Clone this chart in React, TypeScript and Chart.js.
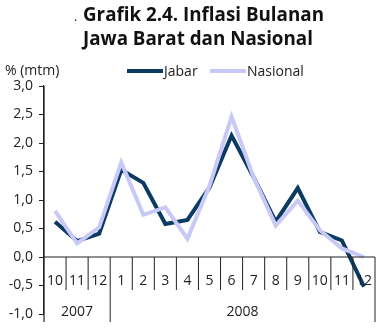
import React, { useEffect, useRef } from "react";
import { Chart, registerables } from "chart.js";

Chart.register(...registerables);

const months = ["10", "11", "12", "1", "2", "3", "4", "5", "6", "7", "8", "9", "10", "11", "12"];
const yearLabels = ["2007", "2008"];
const yearSpans = [3, 12];
const jabar = [0.62, 0.28, 0.41, 1.53, 1.3, 0.58, 0.65, 1.22, 2.13, 1.4, 0.62, 1.21, 0.44, 0.29, -0.52];
const nasional = [0.81, 0.24, 0.52, 1.66, 0.74, 0.87, 0.32, 1.25, 2.46, 1.4, 0.55, 0.99, 0.47, 0.15, 0.0];
const titleLines = ["Grafik 2.4. Inflasi Bulanan", "Jawa Barat dan Nasional"];
const unitLabel = "% (mtm)";

const FONT = "'Open Sans', sans-serif";
const AXIS = "#222";

const decor = {
  id: "decor",
  afterDraw(chart: any) {
    const ctx = chart.ctx;
    const x = chart.scales.x;
    const y = chart.scales.y;
    const area = chart.chartArea;
    ctx.save();
    // title
    ctx.fillStyle = "#111";
    ctx.textBaseline = "alphabetic";
    ctx.textAlign = "left";
    ctx.font = `bold 18.8px ${FONT}`;
    ctx.fillText(titleLines[0], 83, 21);
    ctx.fillText(titleLines[1], 83, 45);
    ctx.font = `12px ${FONT}`;
    ctx.fillText(".", 74, 21);
    // unit
    ctx.font = `14px ${FONT}`;
    ctx.fillStyle = "#222";
    ctx.fillText(unitLabel, 5, 75);
    // legend
    const items = [
      { x: 127, ds: chart.data.datasets[0] },
      { x: 210, ds: chart.data.datasets[1] },
    ];
    items.forEach((it) => {
      ctx.strokeStyle = it.ds.borderColor;
      ctx.lineWidth = 4;
      ctx.beginPath();
      ctx.moveTo(it.x, 71);
      ctx.lineTo(it.x + 36, 71);
      ctx.stroke();
      ctx.fillStyle = "#222";
      ctx.fillText(it.ds.label, it.x + 37, 76);
    });
    // x axis line at zero
    const y0 = y.getPixelForValue(0);
    ctx.strokeStyle = AXIS;
    ctx.lineWidth = 1.2;
    ctx.beginPath();
    ctx.moveTo(area.left, y0);
    ctx.lineTo(area.right, y0);
    ctx.stroke();
    // y axis extension
    ctx.beginPath();
    ctx.moveTo(area.left, area.top);
    ctx.lineTo(area.left, area.bottom + 8);
    ctx.stroke();
    // separators
    const n = months.length;
    const half = (x.getPixelForValue(1) - x.getPixelForValue(0)) / 2;
    const yearBounds = new Set<number>();
    let acc = 0;
    yearSpans.forEach((s) => {
      acc += s;
      yearBounds.add(acc);
    });
    ctx.lineWidth = 1;
    for (let i = 1; i <= n; i++) {
      const bx = x.getPixelForValue(i - 1) + half;
      const long = yearBounds.has(i);
      ctx.beginPath();
      ctx.moveTo(bx, y0);
      ctx.lineTo(bx, long ? area.bottom + 8 : y0 + 33);
      ctx.stroke();
    }
    // month labels
    ctx.fillStyle = "#222";
    ctx.font = `14px ${FONT}`;
    ctx.textAlign = "center";
    ctx.textBaseline = "middle";
    months.forEach((m, i) => {
      ctx.fillText(m, x.getPixelForValue(i), y0 + 24);
    });
    // year labels
    let start = 0;
    yearSpans.forEach((s, k) => {
      const cx = (x.getPixelForValue(start) + x.getPixelForValue(start + s - 1)) / 2;
      ctx.fillText(yearLabels[k], cx, area.bottom - 2);
      start += s;
    });
    ctx.restore();
  },
};

export default function App() {
  const ref = useRef<HTMLCanvasElement | null>(null);
  useEffect(() => {
    if (!ref.current) return;
    const chart = new Chart(ref.current, {
      type: "line",
      data: {
        labels: months,
        datasets: [
          {
            label: "Jabar",
            data: jabar,
            borderColor: "#0b3a63",
            borderWidth: 4,
            pointRadius: 0,
            tension: 0,
            order: 2,
          },
          {
            label: "Nasional",
            data: nasional,
            borderColor: "#c9c9f7",
            borderWidth: 4,
            pointRadius: 0,
            tension: 0,
            order: 1,
          },
        ],
      },
      options: {
        animation: false,
        responsive: false,
        layout: { padding: { top: 86, bottom: 16, right: 12, left: 0 } },
        plugins: {
          legend: { display: false },
          title: { display: false },
          tooltip: { enabled: false },
        },
        scales: {
          x: { display: false, offset: true },
          y: {
            min: -1,
            max: 3,
            afterFit: (s: any) => {
              s.width = 44;
            },
            border: { display: true, color: AXIS, width: 1.2 },
            grid: { display: true, drawOnChartArea: false, drawTicks: true, tickLength: 5, color: AXIS },
            ticks: {
              stepSize: 0.5,
              color: "#222",
              font: { family: FONT, size: 14 },
              padding: 6,
              callback: (v: any) => Number(v).toFixed(1).replace(".", ","),
            },
          },
        },
      },
      plugins: [decor],
    });
    return () => chart.destroy();
  }, []);
  return (
    <div style={{ position: "absolute", left: 0, top: 0, width: 387, height: 330, background: "#fff" }}>
      <canvas ref={ref} width={387} height={330} />
    </div>
  );
}
